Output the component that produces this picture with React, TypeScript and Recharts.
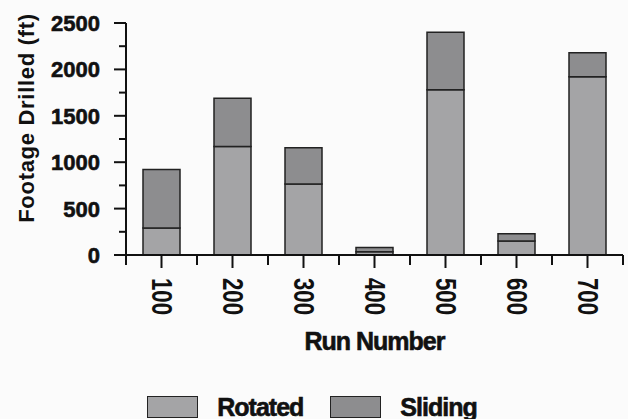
import { BarChart, Bar, XAxis, YAxis, Legend } from 'recharts'

const runs = ['100', '200', '300', '400', '500', '600', '700']
const rotated = [290, 1170, 765, 35, 1780, 150, 1920]
const sliding = [630, 520, 390, 45, 620, 80, 260]
const yTicks = [0, 250, 500, 750, 1000, 1250, 1500, 1750, 2000, 2250, 2500]

const data = runs.map((run, i) => ({ run, rotated: rotated[i], sliding: sliding[i] }))

const FONT = '"Liberation Sans", Arial, sans-serif'
const ROT_FILL = '#a4a4a6'
const SLIDE_FILL = '#8d8d8f'

function YTick(props: any) {
  const { x, y, payload } = props
  const major = payload.value % 500 === 0
  return (
    <g>
      <line x1={x - (major ? 12 : 7)} x2={x} y1={y} y2={y} stroke="#111" strokeWidth={2} />
      {major && (
        <text x={x - 26} y={y} dy={8} textAnchor="end" fontFamily={FONT} fontWeight="bold" fontSize={22}
          fill="#111" stroke="#111" strokeWidth={0.6}>
          {payload.value}
        </text>
      )}
    </g>
  )
}

function XTick(props: any) {
  const { x, y, payload, index, width } = props
  const half = (width || 497) / runs.length / 2
  const ty = y + 23
  return (
    <g>
      <line x1={x} x2={x} y1={y} y2={y + 13} stroke="#111" strokeWidth={2} />
      <line x1={x + half} x2={x + half} y1={y} y2={y + 10} stroke="#111" strokeWidth={2} />
      {index === 0 && <line x1={x - half} x2={x - half} y1={y} y2={y + 10} stroke="#111" strokeWidth={2} />}
      <text x={x} y={ty} transform={`rotate(90, ${x}, ${ty})`} textAnchor="start" dominantBaseline="central"
        fontFamily={FONT} fontWeight="bold" fontSize={29} fill="#111"
        textLength={37} lengthAdjust="spacingAndGlyphs">
        {payload.value}
      </text>
    </g>
  )
}

function YLabel(props: any) {
  const vb = props.viewBox || { x: 0, y: 23, height: 232 }
  const cx = 34
  const cy = vb.y + vb.height / 2 - 21
  return (
    <text x={cx} y={cy} transform={`rotate(-90, ${cx}, ${cy})`} textAnchor="middle" fontFamily={FONT}
      fontWeight="bold" fontSize={22} letterSpacing={0.7} fill="#111">
      Footage Drilled (ft)
    </text>
  )
}

function XLabel(props: any) {
  const vb = props.viewBox || { x: 126, y: 255, width: 497 }
  return (
    <text x={vb.x + vb.width / 2} y={vb.y + 95} textAnchor="middle" fontFamily={FONT} fontWeight="bold"
      fontSize={25} letterSpacing={-1} fill="#111" stroke="#111" strokeWidth={0.6}>
      Run Number
    </text>
  )
}

function LegendBox() {
  const items = [
    { name: 'Rotated', color: ROT_FILL },
    { name: 'Sliding', color: SLIDE_FILL },
  ]
  return (
    <div style={{ display: 'flex', justifyContent: 'center', alignItems: 'center', height: 30, paddingTop: 3, marginLeft: -4 }}>
      {items.map((it, i) => (
        <div key={it.name} style={{ display: 'flex', alignItems: 'center', marginLeft: i ? 27 : 0 }}>
          <span style={{ width: 49, height: 20, background: it.color, border: '1.5px solid #222', display: 'inline-block' }} />
          <span style={{ marginLeft: 19, fontFamily: FONT, fontWeight: 'bold', fontSize: 25, letterSpacing: -1, color: '#111', WebkitTextStroke: '0.6px #111' }}>
            {it.name}
          </span>
        </div>
      ))}
    </div>
  )
}

export default function App() {
  return (
    <div style={{ position: 'absolute', left: 0, top: 0, width: 628, height: 419, background: '#fbfbfb' }}>
      <BarChart width={628} height={419} data={data} margin={{ top: 23, right: 5, left: 0, bottom: 0 }}>
        <XAxis dataKey="run" height={134} tickSize={0} tickMargin={0} tick={<XTick />} interval={0}
          axisLine={{ stroke: '#111', strokeWidth: 2 }} label={<XLabel />} />
        <YAxis width={126} domain={[0, 2500]} ticks={yTicks} interval={0} tickSize={0} tickMargin={0}
          tick={<YTick />} axisLine={{ stroke: '#111', strokeWidth: 2 }} label={<YLabel />} />
        <Legend verticalAlign="bottom" height={30} content={<LegendBox />} wrapperStyle={{ left: 0, width: 628, bottom: 0 }} />
        <Bar dataKey="rotated" name="Rotated" stackId="a" fill={ROT_FILL} stroke="#222" strokeWidth={1.5} barSize={37} isAnimationActive={false} />
        <Bar dataKey="sliding" name="Sliding" stackId="a" fill={SLIDE_FILL} stroke="#222" strokeWidth={1.5} barSize={37} isAnimationActive={false} />
      </BarChart>
    </div>
  )
}
